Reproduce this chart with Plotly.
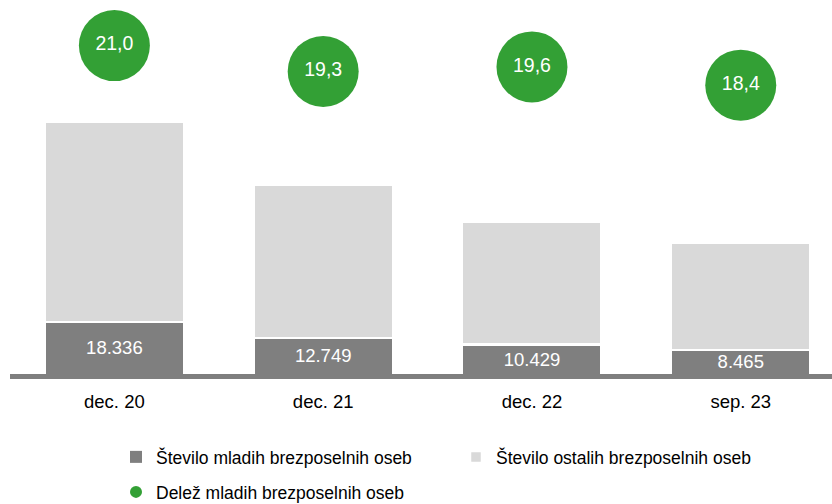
import plotly.graph_objects as go

categories = ["dec. 20", "dec. 21", "dec. 22", "sep. 23"]
young = [18336, 12749, 10429, 8465]
others = [70400, 53900, 43100, 37800]
share = [21.0, 19.3, 19.6, 18.4]
young_labels = ["18.336", "12.749", "10.429", "8.465"]
share_labels = ["21,0", "19,3", "19,6", "18,4"]

DARK = "#7f7f7f"
LIGHT = "#d9d9d9"
GREEN = "#33a035"
REG = "Liberation Sans, Arial, sans-serif"

fig = go.Figure()
fig.add_trace(go.Bar(
    x=categories, y=young, name="Število mladih brezposelnih oseb",
    marker=dict(color=DARK, line=dict(width=0)),
    width=0.656,
    text=young_labels, texttemplate="%{text}", textposition="inside",
    insidetextanchor="middle", constraintext="none", textangle=0,
    textfont=dict(family=REG, size=18.5, color="white"),
    legend="legend",
))
fig.add_trace(go.Bar(
    x=categories, y=others, name="Število ostalih brezposelnih oseb",
    marker=dict(color=LIGHT, line=dict(width=2.5, color="white")),
    width=0.668,
    legend="legend2",
))
fig.add_trace(go.Scatter(
    x=categories, y=share, name="Delež mladih brezposelnih oseb",
    mode="markers+text", yaxis="y2",
    marker=dict(color=GREEN, size=71, line=dict(width=0)),
    text=share_labels, textposition="middle center",
    textfont=dict(family=REG, size=19.5, color="white"),
    cliponaxis=False,
    legend="legend3",
))

ymax = 374 / 0.00284

leg_common = dict(orientation="h", xanchor="left", yanchor="middle",
                  font=dict(family=REG, size=17.5, color="#000000"),
                  bgcolor="rgba(0,0,0,0)", borderwidth=0)

fig.update_layout(
    width=832, height=504,
    margin=dict(l=10, r=0, t=0, b=130, pad=0, autoexpand=False),
    paper_bgcolor="white", plot_bgcolor="white",
    barmode="stack",
    showlegend=True,
    hovermode=False,
    xaxis=dict(
        type="category", range=[-0.5, 3.437], automargin=False,
        showline=True, linecolor=DARK, linewidth=5,
        showgrid=False, zeroline=False, ticks="", ticklabelstandoff=7,
        tickfont=dict(family=REG, size=18.5, color="#000000"),
        fixedrange=True,
    ),
    yaxis=dict(range=[0, ymax], showgrid=False, zeroline=False, automargin=False,
               showticklabels=False, showline=False, fixedrange=True),
    yaxis2=dict(range=[-0.6, 24.0], overlaying="y", side="right", automargin=False,
                showgrid=False, zeroline=False, showticklabels=False,
                showline=False, fixedrange=True),
    legend=dict(x=106 / 822, y=(374 - 457) / 374, **leg_common),
    legend2=dict(x=446 / 822, y=(374 - 457) / 374, **leg_common),
    legend3=dict(x=106 / 822, y=(374 - 492) / 374, itemsizing="constant", **leg_common),
)

fig.write_html("out.html", config={"displayModeBar": False},
               post_script="document.body.style.margin='0';document.body.style.padding='0';")
